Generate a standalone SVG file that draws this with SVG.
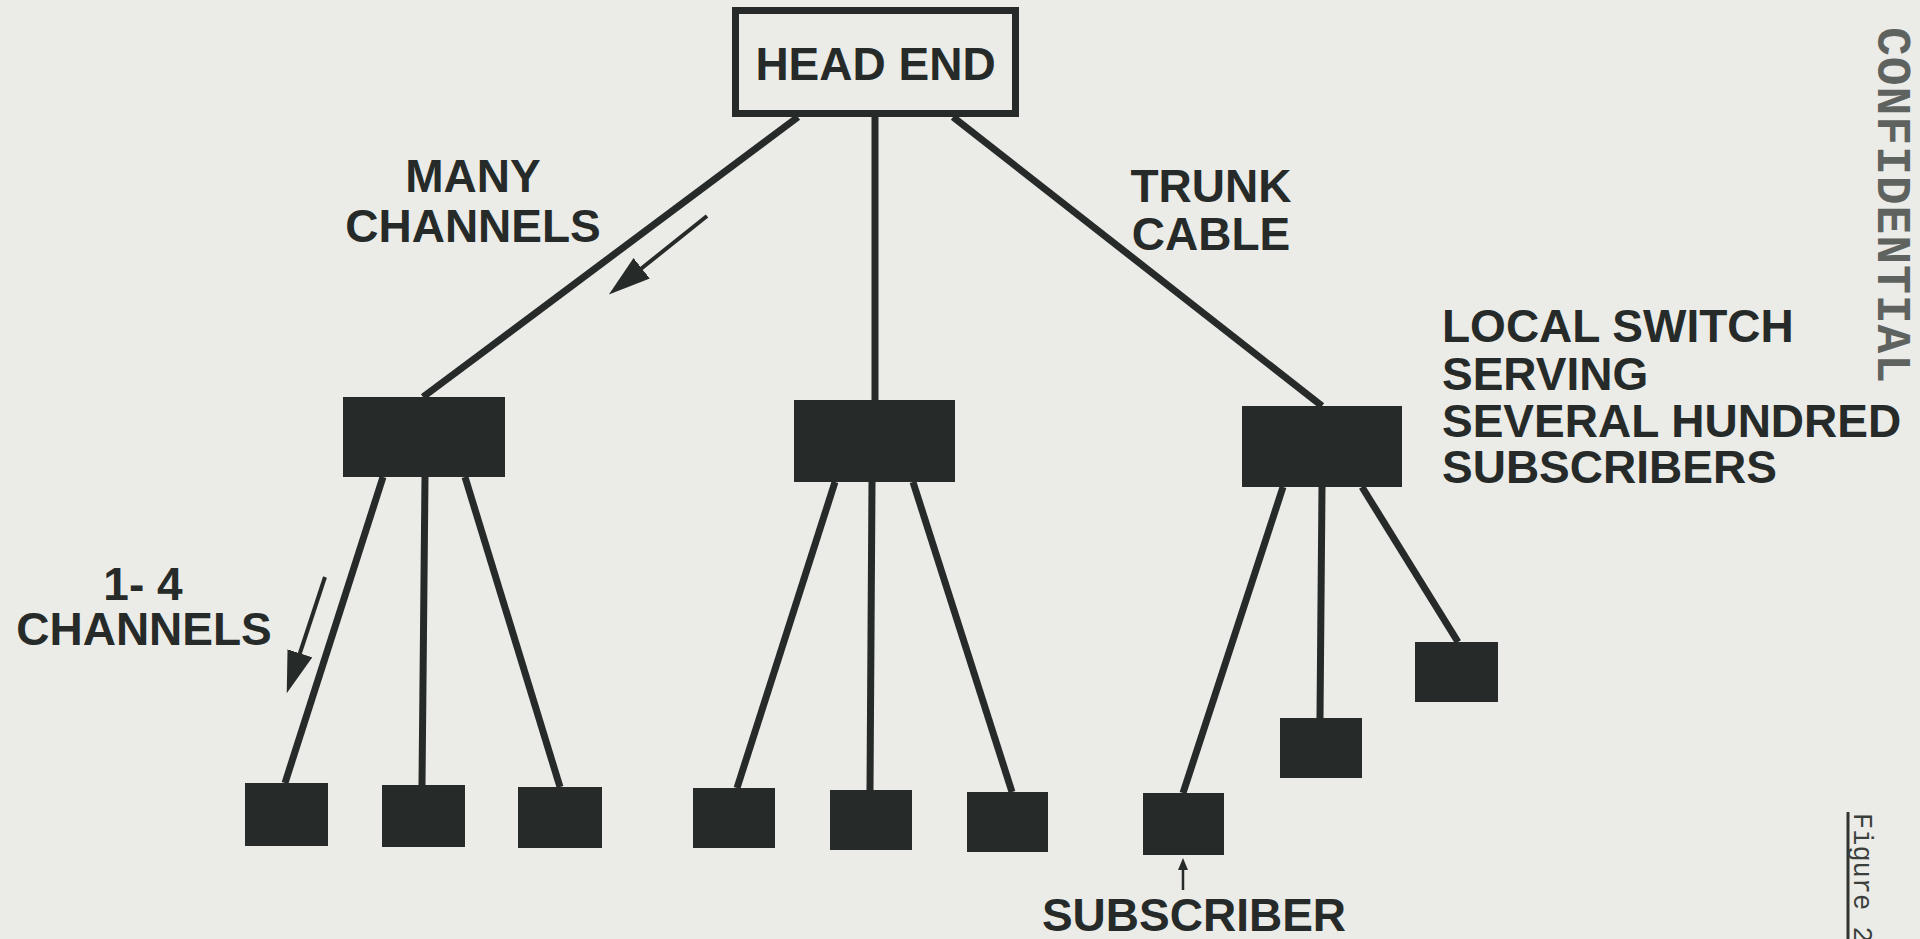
<svg xmlns="http://www.w3.org/2000/svg" width="1920" height="939" viewBox="0 0 1920 939">
  <style>
    .bg { fill: #ebebe8; }
    .cable { stroke: #262b29; stroke-width: 7; stroke-linecap: butt; fill: none; }
    .flow { stroke: #262b29; stroke-width: 4; fill: none; }
    .pointer { stroke: #262b29; stroke-width: 2.5; fill: none; }
    .box { fill: #262b29; }
    .head { fill: #ebebe8; stroke: #262b29; stroke-width: 7; }
    .label { font-family: "Liberation Sans", Arial, Helvetica, sans-serif; font-weight: bold; font-size: 46px; fill: #262b29; }
    .stamp { font-family: "Liberation Mono", "Courier New", monospace; font-weight: bold; font-size: 48px; fill: #3d423f; opacity: 0.8; }
    .fig { font-family: "Liberation Mono", "Courier New", monospace; font-size: 27px; fill: #3a3f3c; }
  </style>
  <defs>
    <marker id="arrowHead" markerUnits="userSpaceOnUse" viewBox="0 0 42 26" refX="6" refY="13" markerWidth="42" markerHeight="26" orient="auto">
      <path d="M0,0 L42,13 L0,26 Z" fill="#262b29"/>
    </marker>
    <marker id="smallHead" markerUnits="userSpaceOnUse" viewBox="0 0 12 10" refX="2" refY="5" markerWidth="12" markerHeight="10" orient="auto">
      <path d="M0,0 L12,5 L0,10 Z" fill="#262b29"/>
    </marker>
  </defs>

  <rect class="bg" x="0" y="0" width="1920" height="939"/>

  <!-- cables -->
  <g id="connectors">
    <line class="cable" x1="798" y1="117" x2="423" y2="397"/>
    <line class="cable" x1="875" y1="117" x2="875" y2="400"/>
    <line class="cable" x1="953" y1="117" x2="1322" y2="406"/>

    <line class="cable" x1="383" y1="477" x2="285" y2="783"/>
    <line class="cable" x1="425" y1="477" x2="422" y2="785"/>
    <line class="cable" x1="465" y1="477" x2="560" y2="787"/>

    <line class="cable" x1="835" y1="482" x2="737" y2="788"/>
    <line class="cable" x1="872" y1="482" x2="870" y2="790"/>
    <line class="cable" x1="913" y1="482" x2="1012" y2="792"/>

    <line class="cable" x1="1283" y1="487" x2="1183" y2="793"/>
    <line class="cable" x1="1322" y1="487" x2="1320" y2="718"/>
    <line class="cable" x1="1362" y1="487" x2="1458" y2="642"/>

    <!-- signal direction arrows -->
    <line class="flow" x1="707" y1="216" x2="637" y2="272" marker-end="url(#arrowHead)"/>
    <line class="flow" x1="325" y1="577" x2="298" y2="659" marker-end="url(#arrowHead)"/>
    <line class="pointer" x1="1183" y1="890" x2="1183" y2="868" marker-end="url(#smallHead)"/>
  </g>

  <!-- head end -->
  <g id="head-end">
    <rect class="head" x="735.5" y="10.5" width="280" height="103"/>
    <text class="label" x="875.5" y="80" text-anchor="middle">HEAD END</text>
  </g>

  <!-- local switches -->
  <g id="switch-left"><rect class="box" x="343" y="397" width="162" height="80"/></g>
  <g id="switch-center"><rect class="box" x="794" y="400" width="161" height="82"/></g>
  <g id="switch-right"><rect class="box" x="1242" y="406" width="160" height="81"/></g>

  <!-- subscribers -->
  <g id="sub-l1"><rect class="box" x="245" y="783" width="83" height="63"/></g>
  <g id="sub-l2"><rect class="box" x="382" y="785" width="83" height="62"/></g>
  <g id="sub-l3"><rect class="box" x="518" y="787" width="84" height="61"/></g>
  <g id="sub-c1"><rect class="box" x="693" y="788" width="82" height="60"/></g>
  <g id="sub-c2"><rect class="box" x="830" y="790" width="82" height="60"/></g>
  <g id="sub-c3"><rect class="box" x="967" y="792" width="81" height="60"/></g>
  <g id="sub-r1"><rect class="box" x="1143" y="793" width="81" height="62"/></g>
  <g id="sub-r2"><rect class="box" x="1280" y="718" width="82" height="60"/></g>
  <g id="sub-r3"><rect class="box" x="1415" y="642" width="83" height="60"/></g>

  <!-- labels -->
  <g id="label-many">
    <text class="label" text-anchor="middle"><tspan x="473" y="192">MANY</tspan><tspan x="473" y="242">CHANNELS</tspan></text>
  </g>
  <g id="label-trunk">
    <text class="label" text-anchor="middle"><tspan x="1211" y="202">TRUNK</tspan><tspan x="1211" y="250">CABLE</tspan></text>
  </g>
  <g id="label-switch">
    <text class="label"><tspan x="1442" y="342">LOCAL SWITCH</tspan><tspan x="1442" y="390">SERVING</tspan><tspan x="1442" y="437">SEVERAL HUNDRED</tspan><tspan x="1442" y="483">SUBSCRIBERS</tspan></text>
  </g>
  <g id="label-few">
    <text class="label" text-anchor="middle"><tspan x="143" y="600">1- 4</tspan><tspan x="144" y="645">CHANNELS</tspan></text>
  </g>
  <g id="label-subscriber">
    <text class="label" x="1194" y="931" text-anchor="middle">SUBSCRIBER</text>
  </g>

  <!-- margin marks -->
  <g id="stamp">
    <text class="stamp" transform="translate(1878,27) rotate(90)" textLength="356" lengthAdjust="spacing">CONFIDENTIAL</text>
  </g>
  <g id="figure-caption">
    <line x1="1848" y1="812" x2="1848" y2="939" stroke="#2f3431" stroke-width="3"/>
    <text class="fig" transform="translate(1854,813) rotate(90)">Figure 2</text>
  </g>
</svg>
